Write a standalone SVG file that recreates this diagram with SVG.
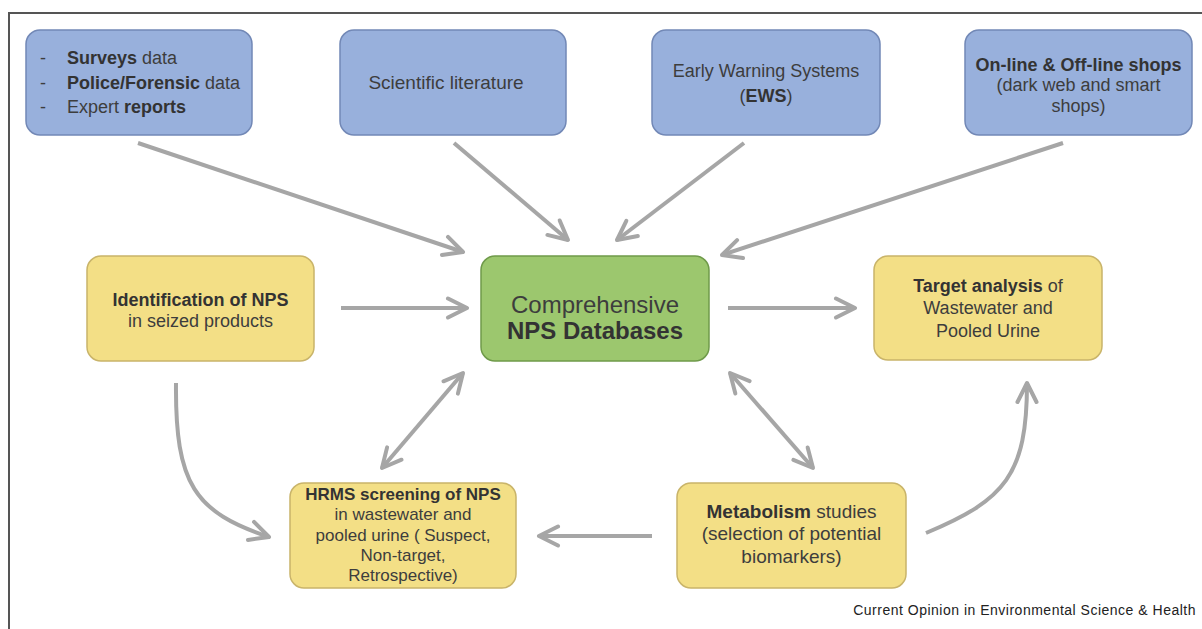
<svg xmlns="http://www.w3.org/2000/svg" width="1202" height="629" viewBox="0 0 1202 629">
<style>
text{font-family:"Liberation Sans",Arial,sans-serif;fill:#3d3d3d;}
.b{font-weight:bold;fill:#333;}
.blue{fill:#98b0dc;stroke:#7288b6;stroke-width:1.5;}
.yel{fill:#f3df86;stroke:#c9b46a;stroke-width:1.5;}
.grn{fill:#9cc76e;stroke:#6f9a4a;stroke-width:1.5;}
.arr{fill:none;stroke:#a6a6a6;stroke-width:4;}
</style>
<defs>
<marker id="ah" viewBox="0 0 26 24" refX="22" refY="12" markerWidth="26" markerHeight="24" markerUnits="userSpaceOnUse" orient="auto-start-reverse">
<path d="M3,2.5 L22,12 L3,21.5" fill="none" stroke="#a6a6a6" stroke-width="4" stroke-linecap="round" stroke-linejoin="round"/>
</marker>
</defs>
<rect width="1202" height="629" fill="#ffffff"/>
<path d="M9,629 L9,13 L1202,13" fill="none" stroke="#555" stroke-width="2"/>

<g id="connectors">
<path class="arr" d="M138,143 L463,252" marker-end="url(#ah)"/>
<path class="arr" d="M454,143 L568,240" marker-end="url(#ah)"/>
<path class="arr" d="M744,143 L617,240" marker-end="url(#ah)"/>
<path class="arr" d="M1063,143 L722,255" marker-end="url(#ah)"/>
<path class="arr" d="M341,308 L467,308" marker-end="url(#ah)"/>
<path class="arr" d="M728,308 L855,308" marker-end="url(#ah)"/>
<path class="arr" d="M382,468 L463,373" marker-start="url(#ah)" marker-end="url(#ah)"/>
<path class="arr" d="M730,373 L813,468" marker-start="url(#ah)" marker-end="url(#ah)"/>
<path class="arr" d="M652,536 L539,536" marker-end="url(#ah)"/>
<path class="arr" d="M176,383 C175,485 195,512 269,537" marker-end="url(#ah)"/>
<path class="arr" d="M926,533 C1005,500 1027,475 1027,383" marker-end="url(#ah)"/>
</g>

<g id="surveys">
<rect class="blue" x="26" y="30" width="226" height="105" rx="14"/>
<text x="40" y="64" font-size="18">-</text>
<text x="40" y="89" font-size="18">-</text>
<text x="40" y="113" font-size="18">-</text>
<text x="67" y="64" font-size="18"><tspan class="b">Surveys</tspan> data</text>
<text x="67" y="89" font-size="18"><tspan class="b">Police/Forensic</tspan> data</text>
<text x="67" y="113" font-size="18">Expert <tspan class="b">reports</tspan></text>
</g>

<g id="literature">
<rect class="blue" x="340" y="30" width="226" height="105" rx="14"/>
<text x="446" y="89" font-size="19" text-anchor="middle">Scientific literature</text>
</g>

<g id="ews">
<rect class="blue" x="652" y="30" width="228" height="105" rx="14"/>
<text x="766" y="77" font-size="18" text-anchor="middle">Early Warning Systems</text>
<text x="766" y="102" font-size="18" text-anchor="middle">(<tspan class="b">EWS</tspan>)</text>
</g>

<g id="shops">
<rect class="blue" x="965" y="30" width="227" height="105" rx="14"/>
<text x="1078.5" y="71" font-size="18" text-anchor="middle" class="b">On-line &amp; Off-line shops</text>
<text x="1078.5" y="91" font-size="18" text-anchor="middle">(dark web and smart</text>
<text x="1078.5" y="112" font-size="18" text-anchor="middle">shops)</text>
</g>

<g id="identification">
<rect class="yel" x="87" y="256" width="227" height="105" rx="14"/>
<text x="200.5" y="306" font-size="18" text-anchor="middle" class="b">Identification of NPS</text>
<text x="200.5" y="327" font-size="18" text-anchor="middle">in seized products</text>
</g>

<g id="databases">
<rect class="grn" x="481" y="256" width="228" height="105" rx="14"/>
<text x="595" y="313" font-size="24" text-anchor="middle">Comprehensive</text>
<text x="595" y="339" font-size="24" text-anchor="middle" class="b">NPS Databases</text>
</g>

<g id="target">
<rect class="yel" x="874" y="256" width="228" height="104" rx="14"/>
<text x="988" y="292" font-size="18" text-anchor="middle"><tspan class="b">Target analysis</tspan> of</text>
<text x="988" y="314" font-size="18" text-anchor="middle">Wastewater and</text>
<text x="988" y="337" font-size="18" text-anchor="middle">Pooled Urine</text>
</g>

<g id="hrms">
<rect class="yel" x="290" y="483" width="226" height="105" rx="14"/>
<text x="403" y="500" font-size="17" text-anchor="middle" class="b">HRMS screening of NPS</text>
<text x="403" y="520" font-size="17" text-anchor="middle">in wastewater and</text>
<text x="403" y="541" font-size="17" text-anchor="middle">pooled urine ( Suspect,</text>
<text x="403" y="561" font-size="17" text-anchor="middle">Non-target,</text>
<text x="403" y="581" font-size="17" text-anchor="middle">Retrospective)</text>
</g>

<g id="metabolism">
<rect class="yel" x="677" y="483" width="229" height="105" rx="14"/>
<text x="791.5" y="518" font-size="19" text-anchor="middle"><tspan class="b">Metabolism</tspan> studies</text>
<text x="791.5" y="540" font-size="19" text-anchor="middle">(selection of potential</text>
<text x="791.5" y="563" font-size="19" text-anchor="middle">biomarkers)</text>
</g>

<text x="1196" y="615" font-size="14" letter-spacing="0.5" text-anchor="end" style="fill:#222">Current Opinion in Environmental Science &amp; Health</text>
</svg>
